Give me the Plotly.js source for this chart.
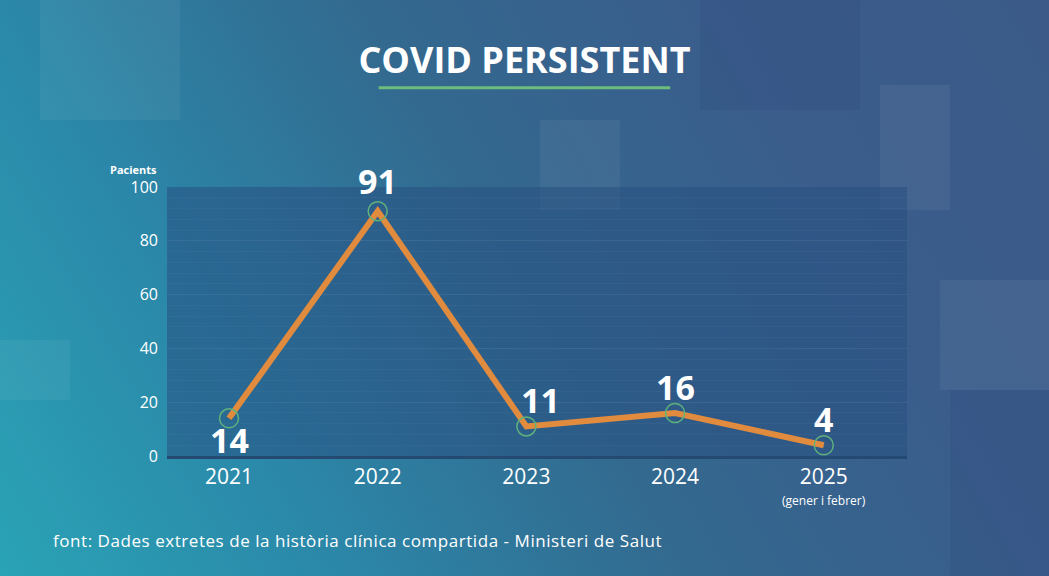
<!DOCTYPE html>
<html>
<head>
<meta charset="utf-8">
<script src="https://cdn.plot.ly/plotly-3.0.1.min.js"></script>
<style>
  html, body { margin:0; padding:0; }
  #wrap { position:relative; width:1049px; height:576px; overflow:hidden;
    background: linear-gradient(60deg, #2aa3b6 0%, #2b87a8 25%, #33698f 50%, #3a5d8c 75%, #3b5a88 100%); }
  .sq { position:absolute; background:rgba(255,255,255,0.05); }
  .sqd { position:absolute; background:rgba(20,40,90,0.08); }
  #chart { position:absolute; left:0; top:0; width:1049px; height:576px; }
  #src { position:absolute; left:53px; top:529px; font-family:"Open Sans",sans-serif; font-size:17px;
    letter-spacing:0.55px; color:#ffffff; white-space:nowrap; }
</style>
</head>
<body>
<div id="wrap">
  <div class="sq" style="left:880px;top:85px;width:70px;height:125px;"></div>
  <div class="sq" style="left:540px;top:120px;width:80px;height:90px;"></div>
  <div class="sq" style="left:40px;top:0px;width:140px;height:120px;"></div>
  <div class="sq" style="left:940px;top:280px;width:110px;height:110px;"></div>
  <div class="sqd" style="left:700px;top:0px;width:160px;height:110px;"></div>
  <div class="sqd" style="left:950px;top:390px;width:100px;height:186px;"></div>
  <div class="sq" style="left:0px;top:340px;width:70px;height:60px;"></div>
  <div id="chart"></div>
  <div id="src">font: Dades extretes de la hist&ograve;ria cl&iacute;nica compartida - Ministeri de Salut</div>
</div>
<script>
var years = ['2021', '2022', '2023', '2024', '2025'];
var pacients = [14, 91, 11, 16, 4];
var labelShiftX = [0, 0, 14, 0, 0];
var labelShiftY = [-22, 30, 26, 26, 26];

var trace = {
  x: years,
  y: pacients,
  type: 'scatter',
  mode: 'lines+markers',
  line: { color: '#e08b3e', width: 6 },
  marker: { size: 19, color: 'rgba(0,0,0,0)', line: { color: '#5fb27c', width: 1.5 } },
  hoverinfo: 'skip',
  cliponaxis: false
};

var annotations = years.map(function (yr, i) {
  return {
    x: i, y: pacients[i], xref: 'x', yref: 'y',
    text: '<b>' + pacients[i] + '</b>', showarrow: false,
    xshift: labelShiftX[i], yshift: labelShiftY[i],
    font: { family: '"Open Sans", sans-serif', size: 34, color: '#ffffff', weight: 800 }
  };
});
annotations.push({
  x: years.length - 1, y: 0, xref: 'x', yref: 'y', yanchor: 'top',
  text: '(gener i febrer)', showarrow: false, yshift: -34,
  font: { family: '"Open Sans", sans-serif', size: 12, color: '#ffffff' }
});
annotations.push({
  x: 0.0, y: 1, xref: 'paper', yref: 'paper', xanchor: 'right', yanchor: 'bottom',
  xshift: -8, yshift: 8,
  text: '<b>Pacients</b>', showarrow: false,
  font: { family: '"Open Sans", sans-serif', size: 11, color: '#ffffff', weight: 800 }
});

var layout = {
  width: 1049, height: 576,
  paper_bgcolor: 'rgba(0,0,0,0)',
  plot_bgcolor: 'rgba(40,80,130,0.55)',
  margin: { l: 167, r: 142, t: 187, b: 120 },
  showlegend: false,
  title: {
    text: '<b>COVID PERSISTENT</b>',
    font: { family: '"Open Sans", sans-serif', size: 36, color: '#ffffff', weight: 800 },
    x: 0.5, xref: 'container', xanchor: 'center', y: 0.895, yanchor: 'middle'
  },
  xaxis: {
    type: 'category',
    range: [-0.417, 4.56],
    showgrid: false, zeroline: false,
    showline: true, linecolor: '#244a72', linewidth: 3,
    ticks: '', ticklen: 0,
    tickfont: { family: '"Open Sans", sans-serif', size: 21, color: '#ffffff' },
    fixedrange: true
  },
  yaxis: {
    range: [0, 100],
    tickvals: [0, 20, 40, 60, 80, 100],
    showgrid: true, gridcolor: 'rgba(255,255,255,0.04)', gridwidth: 1,
    minor: { dtick: 4, showgrid: true, gridcolor: 'rgba(255,255,255,0.03)' },
    zeroline: false, showline: false,
    ticks: '', ticklabelstandoff: 8,
    tickfont: { family: '"Open Sans", sans-serif', size: 16, color: '#ffffff' },
    fixedrange: true
  },
  shapes: [
    { type: 'line', xref: 'paper', yref: 'paper', x0: 0.286, x1: 0.680, y0: 1.369, y1: 1.369,
      line: { color: '#6cbc7c', width: 3 } }
  ],
  annotations: annotations
};

Plotly.newPlot('chart', [trace], layout, { displayModeBar: false, staticPlot: true });
</script>
</body>
</html>
